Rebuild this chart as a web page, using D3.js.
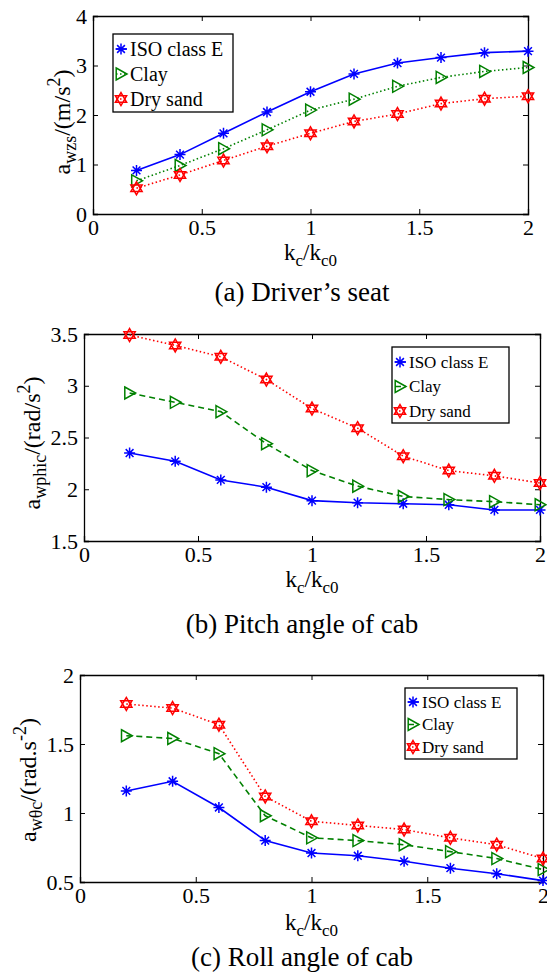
<!DOCTYPE html>
<html>
<head>
<meta charset="utf-8">
<script src="https://cdn.jsdelivr.net/npm/d3@7"></script>
<style>
  body { margin: 0; background: #fff; }
  text { font-family: "Liberation Serif", "DejaVu Serif", serif; fill: #000; }
</style>
</head>
<body>
<svg id="chart" width="547" height="974"></svg>
<script>
// ---- data ----
var kRatio = [0.2, 0.4, 0.6, 0.8, 1.0, 1.2, 1.4, 1.6, 1.8, 2.0];
var seriesNames = ["ISO class E", "Clay", "Dry sand"];

// (a) driver's seat
var seatISO  = [0.88, 1.20, 1.63, 2.06, 2.47, 2.83, 3.05, 3.16, 3.26, 3.29];
var seatClay = [0.67, 0.98, 1.32, 1.70, 2.10, 2.32, 2.58, 2.76, 2.88, 2.96];
var seatSand = [0.52, 0.79, 1.08, 1.37, 1.63, 1.87, 2.02, 2.23, 2.33, 2.38];

// (b) pitch angle of cab
var pitchISO  = [2.35, 2.27, 2.09, 2.02, 1.89, 1.87, 1.86, 1.85, 1.80, 1.80];
var pitchClay = [2.93, 2.84, 2.75, 2.44, 2.18, 2.03, 1.93, 1.90, 1.88, 1.85];
var pitchSand = [3.49, 3.39, 3.28, 3.06, 2.78, 2.59, 2.32, 2.18, 2.13, 2.06];

// (c) roll angle of cab
var rollISO  = [1.16, 1.23, 1.04, 0.80, 0.71, 0.69, 0.65, 0.60, 0.56, 0.51];
var rollClay = [1.56, 1.54, 1.43, 0.98, 0.82, 0.80, 0.77, 0.72, 0.67, 0.59];
var rollSand = [1.79, 1.76, 1.64, 1.12, 0.94, 0.91, 0.88, 0.82, 0.77, 0.67];

var xTicks = [0, 0.5, 1, 1.5, 2];
var seatTicks = [0, 1, 2, 3, 4];
var pitchTicks = [1.5, 2, 2.5, 3, 3.5];
var rollTicks = [0.5, 1, 1.5, 2];

var colors = ["#0000ff", "#008000", "#ff0000"];

// marker shapes
function asterisk(r) {
    var d = r * 0.707;
    return "M" + (-r) + ",0L" + r + ",0M0," + (-r) + "L0," + r +
        "M" + (-d) + "," + (-d) + "L" + d + "," + d + "M" + (-d) + "," + d + "L" + d + "," + (-d);
}
function triRight(r) {
    return "M" + (-r * 0.8) + "," + (-r) + "L" + r + ",0L" + (-r * 0.8) + "," + r + "Z";
}
function hexagram(r) {
    var p = function (a) { return [r * Math.cos(a), r * Math.sin(a)]; };
    var s = "";
    [-90, 30, 150].forEach(function (a, i) { var q = p(a * Math.PI / 180); s += (i ? "L" : "M") + q[0] + "," + q[1]; });
    s += "Z";
    [90, 210, 330].forEach(function (a, i) { var q = p(a * Math.PI / 180); s += (i ? "L" : "M") + q[0] + "," + q[1]; });
    return s + "Z";
}
var markers = [asterisk(5.5), triRight(6), hexagram(6.5)];

var svg = d3.select("#chart");

function drawPanel(cfg) {
    var x = d3.scaleLinear().domain([0, 2]).range([cfg.left, cfg.right]);
    var y = d3.scaleLinear().domain(cfg.yDomain).range([cfg.bottom, cfg.top]);
    var g = svg.append("g");

    // axes, MATLAB style box with inward ticks
    g.append("g").attr("transform", "translate(0," + cfg.bottom + ")")
        .call(d3.axisBottom(x).tickValues(xTicks).tickSize(-5).tickPadding(5).tickFormat(d3.format("")));
    g.append("g").attr("transform", "translate(0," + cfg.top + ")")
        .call(d3.axisTop(x).tickValues(xTicks).tickSize(-5).tickFormat(""));
    g.append("g").attr("transform", "translate(" + cfg.left + ",0)")
        .call(d3.axisLeft(y).tickValues(cfg.yTicks).tickSize(-5).tickPadding(6).tickFormat(d3.format("")));
    g.append("g").attr("transform", "translate(" + cfg.right + ",0)")
        .call(d3.axisRight(y).tickValues(cfg.yTicks).tickSize(-5).tickFormat(""));
    g.selectAll(".domain").attr("stroke", "#000").attr("stroke-width", 1.3);
    g.selectAll(".tick line").attr("stroke", "#000");
    g.selectAll(".tick text").attr("font-size", 22).attr("font-family", "Liberation Serif");

    var line = d3.line().x(function (d) { return x(d[0]); }).y(function (d) { return y(d[1]); });

    cfg.series.forEach(function (vals, i) {
        var pts = kRatio.map(function (k, j) { return [k, vals[j]]; });
        g.append("path").datum(pts)
            .attr("d", line)
            .attr("fill", "none")
            .attr("stroke", colors[i])
            .attr("stroke-width", 1.6)
            .attr("stroke-dasharray", cfg.dash[i]);
        g.selectAll(".m" + i).data(pts).enter().append("path")
            .attr("transform", function (d) { return "translate(" + x(d[0]) + "," + y(d[1]) + ")"; })
            .attr("d", markers[i])
            .attr("fill", "none")
            .attr("stroke", colors[i])
            .attr("stroke-width", 1.5);
    });

    // legend
    var L = cfg.legend;
    g.append("rect").attr("x", L.x).attr("y", L.y).attr("width", L.w).attr("height", L.h)
        .attr("fill", "#fff").attr("stroke", "#000").attr("stroke-width", 1.3);
    seriesNames.forEach(function (name, i) {
        var ry = L.y + L.first + i * L.step;
        g.append("line").attr("x1", L.x + 3).attr("x2", L.x + 14).attr("y1", ry).attr("y2", ry)
            .attr("stroke", colors[i]).attr("stroke-width", 1.6).attr("stroke-dasharray", cfg.dash[i]);
        g.append("path").attr("transform", "translate(" + (L.x + 8) + "," + ry + ")")
            .attr("d", markers[i]).attr("fill", "none").attr("stroke", colors[i]).attr("stroke-width", 1.5);
        g.append("text").attr("x", L.x + 17).attr("y", ry).attr("dy", "0.35em")
            .attr("font-size", L.fs).text(name);
    });

    // y label
    var yl = g.append("text")
        .attr("transform", "translate(" + cfg.yLabel.x + "," + cfg.yLabel.y + ") rotate(-90)")
        .attr("text-anchor", "middle").attr("font-size", 24);
    cfg.yLabel.parts.forEach(function (p) {
        var t = yl.append("tspan").text(p[0]);
        if (p[1] === "sub") t.attr("font-size", 18).attr("dy", 6);
        else if (p[1] === "sup") t.attr("font-size", 18).attr("dy", -10);
        else if (p[1] === "back") t.attr("dy", -6);
        else if (p[1] === "down") t.attr("dy", 10);
    });

    // x label
    var xl = g.append("text").attr("x", (cfg.left + cfg.right) / 2).attr("y", cfg.xLabelY)
        .attr("text-anchor", "middle").attr("font-size", 23);
    xl.append("tspan").text("k");
    xl.append("tspan").text("c").attr("font-size", 17).attr("dy", 6);
    xl.append("tspan").text("/k").attr("dy", -6);
    xl.append("tspan").text("c0").attr("font-size", 17).attr("dy", 6);

    // caption
    g.append("text").attr("x", cfg.capX).attr("y", cfg.capY).attr("text-anchor", "middle")
        .attr("font-size", 27).text(cfg.caption);
}

drawPanel({
    left: 93, right: 528, top: 16, bottom: 214,
    yDomain: [0, 4], yTicks: seatTicks,
    series: [seatISO, seatClay, seatSand],
    dash: [null, "1.5,2.5", "1.5,2.5"],
    legend: { x: 113, y: 34, w: 120, h: 78, first: 15, step: 25, fs: 20 },
    yLabel: { x: 70, y: 122, parts: [["a"], ["wzs", "sub"], ["/(m/s", "back"], ["2", "sup"], [")", "down"]] },
    xLabelY: 260, caption: "(a) Driver\u2019s seat", capX: 302, capY: 301
});

drawPanel({
    left: 84, right: 540, top: 334, bottom: 541,
    yDomain: [1.5, 3.5], yTicks: pitchTicks,
    series: [pitchISO, pitchClay, pitchSand],
    dash: [null, "6,4", "1.5,2.5"],
    legend: { x: 392, y: 347, w: 117, h: 76, first: 15, step: 24.5, fs: 17 },
    yLabel: { x: 40, y: 443, parts: [["a"], ["wphic", "sub"], ["/(rad/s", "back"], ["2", "sup"], [")", "down"]] },
    xLabelY: 587, caption: "(b) Pitch angle of cab", capX: 302, capY: 633
});

drawPanel({
    left: 80, right: 543, top: 675, bottom: 882,
    yDomain: [0.5, 2], yTicks: rollTicks,
    series: [rollISO, rollClay, rollSand],
    dash: [null, "6,4", "1.5,2.5"],
    legend: { x: 405, y: 688, w: 112, h: 71, first: 14, step: 22.5, fs: 17 },
    yLabel: { x: 36, y: 780, parts: [["a"], ["w\u03b8c", "sub"], ["/(rad.s", "back"], ["-2", "sup"], [")", "down"]] },
    xLabelY: 930, caption: "(c) Roll angle of cab", capX: 302, capY: 966
});
</script>
</body>
</html>
